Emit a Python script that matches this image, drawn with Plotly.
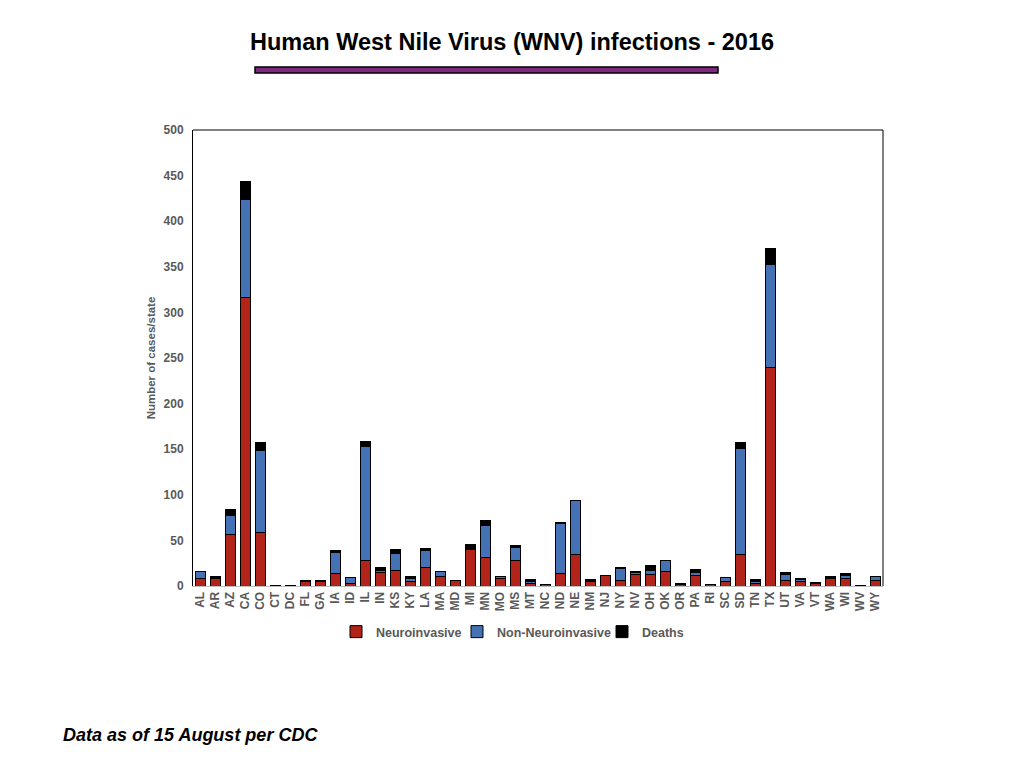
import plotly.graph_objects as go

states = ["AL","AR","AZ","CA","CO","CT","DC","FL","GA","IA","ID","IL","IN","KS","KY",
          "LA","MA","MD","MI","MN","MO","MS","MT","NC","ND","NE","NM","NJ","NY","NV",
          "OH","OK","OR","PA","RI","SC","SD","TN","TX","UT","VA","VT","WA","WI","WV","WY"]
neuroinvasive = [8, 8, 57, 316, 59, 1, 1, 5, 5, 14, 3, 28, 15, 17, 5,
                 20, 10, 6, 40, 31, 8, 28, 3, 2, 14, 34, 5, 11, 6, 13,
                 13, 16, 2, 11, 2, 5, 35, 3, 240, 6, 5, 3, 8, 8, 1, 6]
non_neuroinvasive = [8, 0, 20, 108, 90, 0, 0, 0, 0, 23, 6, 125, 2, 19, 3,
                     19, 6, 0, 0, 35, 2, 14, 2, 0, 54, 60, 0, 0, 13, 2,
                     4, 12, 0, 4, 0, 4, 116, 2, 113, 7, 2, 0, 0, 4, 0, 4]
deaths = [0, 2, 7, 19, 8, 0, 0, 1, 1, 2, 0, 5, 3, 4, 2,
          2, 0, 0, 5, 6, 0, 2, 2, 0, 2, 0, 2, 1, 1, 1,
          5, 0, 1, 3, 0, 0, 6, 2, 17, 2, 1, 1, 2, 2, 0, 0]
y_ticks = [0, 50, 100, 150, 200, 250, 300, 350, 400, 450, 500]

FONT = "Liberation Sans, Arial, Helvetica, sans-serif"
GRAY = "#595959"

# plot area in figure pixels
L, R, T, B = 185, 149, 122, 190
PW, PH = 1024 - L - R, 768 - T - B


def px(xpage):
    return (xpage - 8 - L) / PW


def py(ypage):
    return (768 - B - (ypage - 8)) / PH


series = [("Neuroinvasive", neuroinvasive, "#B2231A", "legend", 336),
          ("Non-Neuroinvasive", non_neuroinvasive, "#4472B4", "legend2", 457),
          ("Deaths", deaths, "#000000", "legend3", 602)]

fig = go.Figure()
legend_layouts = {}
for name, vals, color, lg, lx in series:
    fig.add_trace(go.Bar(x=states, y=vals, name=name, legend=lg,
                         marker=dict(color=color, line=dict(color="#000000", width=1))))
    legend_layouts[lg] = dict(orientation="h", x=px(lx), xanchor="left",
                              y=py(632), yanchor="middle",
                              font=dict(family=FONT, size=12.5, color=GRAY, weight="bold"),
                              itemwidth=30, bgcolor="rgba(0,0,0,0)")

fig.update_layout(
    width=1024, height=768,
    barmode="stack", bargap=0.36,
    paper_bgcolor="white", plot_bgcolor="white",
    margin=dict(l=L, r=R, t=T, b=B),
    font=dict(family=FONT, color=GRAY, size=12),
    showlegend=True,
    xaxis=dict(type="category", tickangle=-90, showgrid=False,
               showline=True, linecolor="#BFBFBF", linewidth=1, mirror=False,
               ticks="", tickfont=dict(family=FONT, size=12, color=GRAY, weight="bold")),
    yaxis=dict(range=[0, 500], tickvals=y_ticks, showgrid=False, zeroline=False,
               showline=True, linecolor="#000000", linewidth=1, ticks="",
               ticklabelstandoff=6,
               tickfont=dict(family=FONT, size=12, color=GRAY, weight="bold"),
               title=dict(text="Number of cases/state", standoff=5,
                          font=dict(family=FONT, size=11.5, color=GRAY, weight="bold"))),
    shapes=[
        dict(type="line", xref="paper", yref="paper", x0=0, x1=1, y0=1, y1=1,
             line=dict(color="#000000", width=1)),
        dict(type="line", xref="paper", yref="paper", x0=1, x1=1, y0=0, y1=1,
             line=dict(color="#000000", width=1)),
        dict(type="rect", xref="paper", yref="paper",
             x0=px(255), x1=px(718), y0=py(73), y1=py(67),
             fillcolor="#7D2A7E", line=dict(color="#000000", width=1.5)),
    ],
    annotations=[
        dict(text="<b>Human West Nile Virus (WNV) infections - 2016</b>",
             xref="paper", yref="paper", x=px(512), y=py(42),
             xanchor="center", yanchor="middle", showarrow=False,
             font=dict(family=FONT, size=23.5, color="#000000")),
        dict(text="<b><i>Data as of 15 August per CDC</i></b>",
             xref="paper", yref="paper", x=px(61), y=py(735),
             xanchor="left", yanchor="middle", showarrow=False,
             font=dict(family=FONT, size=18, color="#000000")),
    ],
    **legend_layouts,
)

fig.write_html("out.html")
